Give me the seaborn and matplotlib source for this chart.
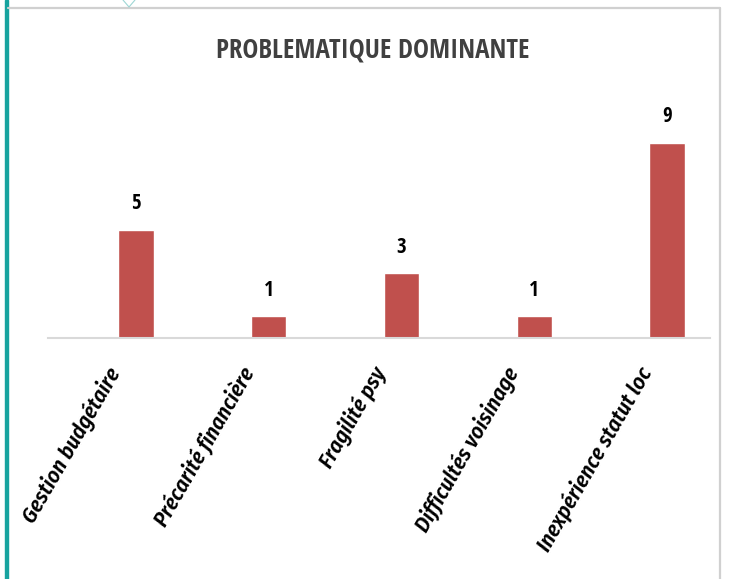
import matplotlib
matplotlib.use("Agg")
import matplotlib.pyplot as plt
import matplotlib.transforms as mtransforms
from matplotlib.patches import Rectangle
from matplotlib.lines import Line2D
import seaborn as sns
import pandas as pd

categories = ["Gestion budgétaire", "Précarité financière", "Fragilité psy",
              "Difficultés voisinage", "Inexpérience statut loc"]
values = [5, 1, 3, 1, 9]
title = "PROBLEMATIQUE DOMINANTE"

sns.set_theme(style="white")
fonts = ["Open Sans Condensed", "Open Sans", "DejaVu Sans"]
label_fonts = ["Fira Sans Condensed", "Open Sans", "DejaVu Sans"]
plt.rcParams["font.family"] = fonts

W, H = 734, 579
fig = plt.figure(figsize=(W / 100, H / 100), dpi=100)
fig.patch.set_facecolor("white")

def px(x0, y0, w, h):
    return [x0 / W, 1 - (y0 + h) / H, w / W, h / H]

# card frame
fig.add_artist(Line2D([8 / W, 720 / W], [1 - 7.5 / H, 1 - 7.5 / H], color="#D0D0D0", lw=1.6, transform=fig.transFigure))
fig.add_artist(Line2D([720 / W, 720 / W], [0, 1 - 7.5 / H], color="#D0D0D0", lw=1.6, transform=fig.transFigure))
fig.add_artist(Rectangle((4.5 / W, 0), 3.5 / W, 1, color="#17A39F", transform=fig.transFigure))
fig.add_artist(Line2D([123 / W, 129 / W, 135 / W], [1, 1 - 7 / H, 1], color="#9ED6D4", lw=0.8, transform=fig.transFigure))

ax_h = 11 * 21.7
ax = fig.add_axes(px(48, 338 - ax_h, 662, ax_h))
df = pd.DataFrame({"cat": categories, "val": values})
sns.barplot(data=df, x="cat", y="val", color="#C0504D", width=0.264, ax=ax,
            saturation=1, errorbar=None)
ax.set_xlim(-0.663, 4.324)
ax.set_ylim(0, 11)
ax.set_xlabel("")
ax.set_ylabel("")
ax.set_yticks([])
for s in ["top", "left", "right"]:
    ax.spines[s].set_visible(False)
ax.spines["bottom"].set_color("#D9D9D9")
ax.spines["bottom"].set_linewidth(1.5)
ax.tick_params(axis="x", length=0, pad=8)
ax.set_xticks(range(len(categories)))
ax.set_xticklabels(categories, rotation=60, ha="right", va="center",
                   rotation_mode="anchor", fontsize=16, fontweight=600,
                   fontstyle="italic", color="black", family=label_fonts)
offset = mtransforms.ScaledTranslation(-20 / 100, -20 / 100, fig.dpi_scale_trans)
for lab in ax.get_xticklabels():
    lab.set_transform(lab.get_transform() + offset)

for c in ax.containers:
    ax.bar_label(c, labels=[str(v) for v in values], padding=11, fontsize=15,
                 fontweight="bold", color="black", family=fonts)

fig.text(373 / W, 1 - 50 / H, title, ha="center", va="center", fontsize=19.4,
         fontweight="bold", color="#404040", family=fonts)

fig.savefig("out.png", dpi=100, facecolor="white")
